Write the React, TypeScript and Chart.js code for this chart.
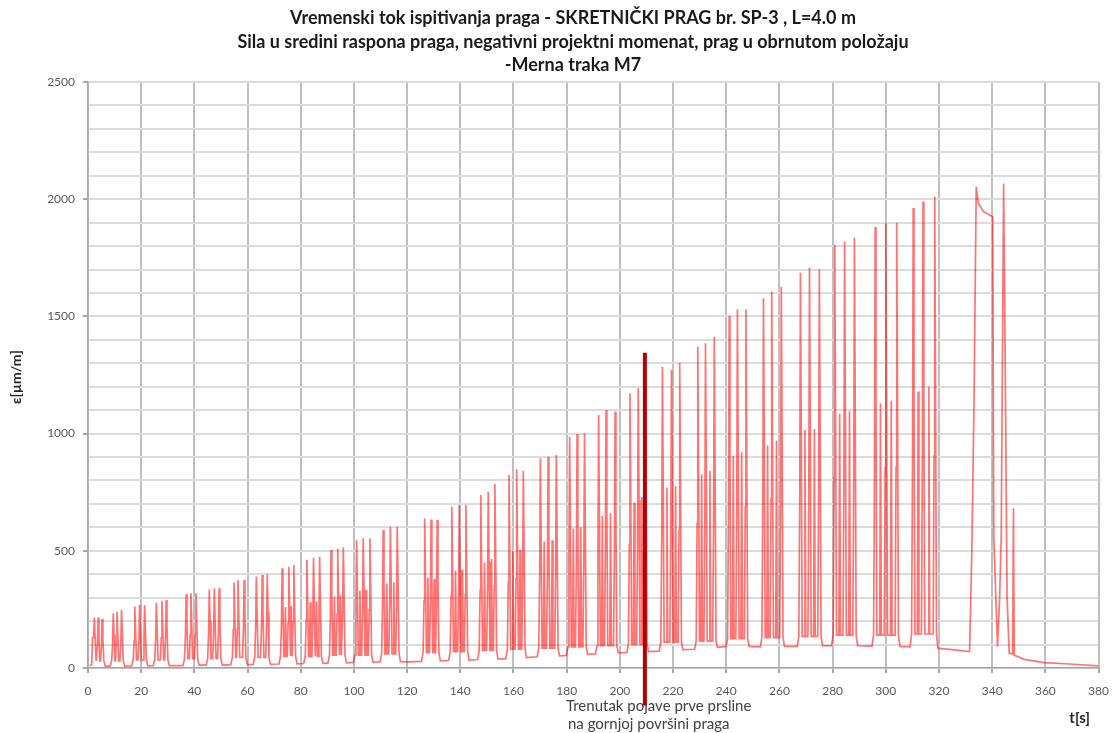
import React, { useEffect, useRef } from "react";
import { Chart, registerables } from "chart.js";

Chart.register(...registerables);

const titleLines = [
  "Vremenski tok ispitivanja praga - SKRETNIČKI PRAG br. SP-3 , L=4.0 m",
  "Sila u sredini raspona praga, negativni projektni momenat, prag u obrnutom položaju",
  "-Merna traka M7",
];
const yAxisTitle = "ε[µm/m]";
const xAxisTitle = "t[s]";
const crackLabelLines = ["Trenutak pojave prve prsline", "na gornjoj površini praga"];
const crackTimeS = 209.4;
const crackTopUm = 1345;
const crackBottomUm = -160;

const xMin = 0;
const xMax = 380;
const xStep = 20;
const yMin = 0;
const yMax = 2500;
const yGridStep = 100;
const yLabelStep = 500;

// main trace: time [s], one line per loading group
const timeS = [
  0.6, 1.4, 1.7, 2.1, 2.4, 2.7, 3.05, 3.2, 3.55, 3.8, 4.1, 4.45, 4.7, 5.05, 5.3, 5.6, 5.95, 6.5,
  8.3, 8.9, 9.25, 9.5, 9.8, 10.15, 10.3, 10.65, 10.9, 11.2, 11.55, 12.0, 12.35, 12.6, 12.9, 13.25, 13.8,
  16.4, 17.0, 17.35, 17.6, 17.9, 18.25, 18.8, 19.15, 19.4, 19.7, 20.05, 20.7, 21.05, 21.3, 21.6, 21.95, 22.5,
  24.5, 25.1, 25.45, 25.7, 26.0, 26.35, 27.2, 27.55, 27.8, 28.1, 28.45, 28.8, 29.15, 29.4, 29.7, 30.05, 30.6,
  35.7, 36.3, 36.65, 36.9, 37.2, 37.55, 38.1, 38.45, 38.7, 39.0, 39.35, 40.0, 40.35, 40.6, 40.9, 41.25, 41.8,
  44.4, 45.0, 45.35, 45.6, 45.9, 46.25, 46.9, 47.25, 47.5, 47.8, 48.15, 48.7, 49.05, 49.3, 49.6, 49.95, 50.5,
  53.7, 54.3, 54.65, 54.9, 55.2, 55.55, 55.8, 56.15, 56.4, 56.7, 57.05, 58.1, 58.45, 58.7, 59.0, 59.35, 59.9,
  62.1, 62.7, 63.05, 63.3, 63.6, 63.95, 64.9, 65.25, 65.5, 65.8, 66.15, 66.8, 67.15, 67.4, 67.7, 68.05, 68.6,
  71.8, 72.4, 72.75, 73.0, 73.3, 73.65, 74.9, 75.25, 75.5, 75.8, 76.15, 76.8, 77.15, 77.4, 77.7, 78.05, 78.6,
  81.1, 81.7, 82.05, 82.3, 82.6, 82.95, 84.2, 84.55, 84.8, 85.1, 85.45, 86.5, 86.85, 87.1, 87.4, 87.75, 88.3,
  90.2, 90.8, 91.15, 91.4, 91.7, 92.05, 93.3, 93.65, 93.9, 94.2, 94.55, 95.4, 95.75, 96.0, 96.3, 96.65, 97.2,
  99.8, 100.4, 100.75, 101.0, 101.3, 101.65, 102.9, 103.25, 103.5, 103.8, 104.15, 105.4, 105.75, 106.0, 106.3, 106.65, 107.2,
  109.8, 110.4, 110.75, 111.0, 111.3, 111.65, 113.1, 113.45, 113.7, 114.0, 114.35, 115.7, 116.05, 116.3, 116.6, 116.95, 117.5,
  120.5,
  125.4, 126.0, 126.35, 126.6, 126.9, 127.25, 128.4, 128.75, 129.0, 129.3, 129.65, 130.7, 131.05, 131.3, 131.6, 131.95, 132.5,
  135.6, 136.2, 136.55, 136.8, 137.1, 137.45, 139.0, 139.35, 139.6, 139.9, 140.25, 141.5, 141.85, 142.1, 142.4, 142.75, 143.3,
  146.5, 147.1, 147.45, 147.7, 148.0, 148.35, 149.9, 150.25, 150.5, 150.8, 151.15, 152.4, 152.75, 153.0, 153.3, 153.65, 154.2,
  157.1, 157.7, 158.05, 158.3, 158.6, 158.95, 160.6, 160.95, 161.2, 161.5, 161.85, 163.1, 163.45, 163.7, 164.0, 164.35, 164.9,
  168.9, 169.5, 169.85, 170.1, 170.4, 170.75, 172.4, 172.75, 173.0, 173.3, 173.65, 175.5, 175.85, 176.1, 176.4, 176.75, 177.3,
  179.9, 180.5, 180.85, 181.1, 181.4, 181.75, 183.3, 183.65, 183.9, 184.2, 184.55, 186.1, 186.45, 186.7, 187.0, 187.35, 187.9,
  190.8, 191.4, 191.75, 192.0, 192.3, 192.65, 194.2, 194.55, 194.8, 195.1, 195.45, 197.6, 197.95, 198.2, 198.5, 198.85, 199.4,
  202.6, 203.2, 203.55, 203.8, 204.1, 204.45, 206.3, 206.65, 206.9, 207.2, 207.55, 209.0, 209.35, 209.6, 209.9, 210.25, 210.8,
  214.8, 215.4, 215.75, 216.0, 216.3, 216.65, 218.8, 219.15, 219.4, 219.7, 220.05, 221.9, 222.25, 222.5, 222.8, 223.15, 223.7,
  228.1, 228.7, 229.05, 229.3, 229.6, 229.95, 231.6, 231.95, 232.2, 232.5, 232.85, 234.9, 235.25, 235.5, 235.8, 236.15, 236.7,
  239.9, 240.5, 240.85, 241.1, 241.4, 241.75, 243.6, 243.95, 244.2, 244.5, 244.85, 246.8, 247.15, 247.4, 247.7, 248.05, 248.6,
  252.8, 253.4, 253.75, 254.0, 254.3, 254.65, 256.5, 256.85, 257.1, 257.4, 257.75, 260.1, 260.45, 260.7, 261.0, 261.35, 261.9,
  266.7, 267.3, 267.65, 267.9, 268.2, 268.55, 270.7, 271.05, 271.3, 271.6, 271.95, 274.4, 274.75, 275.0, 275.3, 275.65, 276.2,
  279.6, 280.2, 280.55, 280.8, 281.1, 281.45, 283.9, 284.25, 284.5, 284.8, 285.15, 287.6, 287.95, 288.2, 288.5, 288.85, 289.4,
  294.8, 295.4, 295.75, 296.0, 296.3, 296.65, 299.4, 299.75, 300.0, 300.3, 300.65, 303.5, 303.85, 304.1, 304.4, 304.75, 305.3,
  309.1, 309.7, 310.05, 310.3, 310.6, 310.95, 313.4, 313.75, 314.0, 314.3, 314.65, 317.8, 318.15, 318.4, 318.7, 319.05, 319.6,
  325.0, 331.5, 332.3, 333.2, 334.0, 334.8, 336.8, 340.2, 340.6, 342.0, 342.8, 343.4,
  344.3, 344.9, 345.6, 346.4, 347.7, 348.0, 348.3, 352.0, 359.5, 369.0, 380.0,
];

// main trace: strain [µm/m], same order as timeS
const strainUm = [
  10, 15, 130, 130, 215, 125, 30, 30, 100, 215, 125, 30, 30, 95, 210, 120, 30, 8,
  8, 30, 105, 233, 140, 30, 30, 108, 240, 145, 30, 30, 110, 247, 150, 30, 8,
  9, 35, 118, 262, 157, 35, 35, 120, 270, 162, 35, 35, 120, 268, 160, 35, 9,
  10, 35, 125, 279, 167, 35, 35, 130, 287, 172, 35, 35, 130, 290, 174, 35, 10,
  10, 40, 142, 315, 189, 40, 40, 144, 319, 191, 40, 40, 144, 319, 191, 40, 12,
  12, 40, 150, 335, 200, 40, 40, 153, 340, 204, 40, 40, 153, 340, 204, 40, 12,
  14, 45, 165, 365, 219, 45, 45, 169, 375, 225, 45, 45, 169, 375, 225, 45, 15,
  15, 45, 175, 390, 234, 45, 45, 179, 397, 238, 45, 45, 180, 400, 240, 45, 16,
  17, 50, 191, 425, 255, 50, 50, 194, 432, 259, 50, 50, 198, 439, 263, 50, 18,
  19, 50, 208, 462, 277, 50, 50, 212, 470, 282, 50, 50, 214, 475, 285, 50, 20,
  21, 55, 226, 503, 302, 55, 55, 230, 510, 306, 55, 55, 232, 515, 309, 55, 22,
  24, 55, 245, 545, 327, 55, 55, 249, 553, 332, 55, 55, 249, 553, 332, 55, 25,
  26, 60, 265, 589, 353, 60, 60, 271, 603, 362, 60, 60, 271, 603, 362, 60, 27,
  26,
  28, 65, 287, 638, 383, 65, 65, 285, 634, 380, 65, 65, 284, 631, 379, 65, 30,
  32, 70, 310, 688, 413, 70, 70, 313, 695, 417, 70, 70, 313, 695, 417, 70, 34,
  36, 75, 332, 738, 443, 75, 75, 338, 752, 451, 75, 75, 353, 785, 471, 75, 38,
  40, 80, 370, 823, 494, 80, 80, 382, 848, 509, 80, 80, 379, 842, 505, 80, 44,
  48, 85, 403, 895, 537, 85, 85, 405, 901, 541, 85, 85, 409, 909, 545, 85, 52,
  54, 90, 444, 987, 592, 90, 90, 449, 998, 599, 90, 90, 450, 1001, 601, 90, 58,
  60, 95, 486, 1079, 647, 95, 95, 495, 1101, 661, 95, 95, 492, 1093, 656, 95, 65,
  66, 100, 527, 1172, 703, 100, 100, 537, 1193, 716, 100, 100, 558, 1240, 744, 100, 70,
  72, 110, 578, 1285, 771, 110, 110, 572, 1271, 763, 110, 110, 586, 1302, 781, 110, 78,
  80, 115, 617, 1371, 823, 115, 115, 623, 1385, 831, 115, 115, 636, 1413, 848, 115, 88,
  92, 125, 676, 1502, 901, 125, 125, 689, 1530, 918, 125, 125, 689, 1530, 918, 125, 92,
  90, 130, 710, 1577, 946, 130, 130, 723, 1606, 964, 130, 130, 732, 1627, 976, 130, 92,
  92, 135, 759, 1686, 1012, 135, 135, 769, 1709, 1025, 135, 135, 765, 1701, 1021, 135, 95,
  95, 140, 812, 1805, 1083, 140, 140, 819, 1819, 1091, 140, 140, 827, 1837, 1102, 140, 95,
  93, 140, 846, 1881, 1129, 140, 140, 855, 1900, 1140, 140, 140, 855, 1900, 1140, 140, 92,
  90, 145, 883, 1962, 1177, 145, 145, 896, 1990, 1194, 145, 145, 905, 2011, 1207, 145, 84,
  78, 70, 470, 1157, 2053, 1982, 1947, 1925, 560, 91, 300, 560,
  2067, 1300, 300, 64, 60, 681, 55, 37, 23, 17, 9,
];

// secondary (intermediate) spikes between the main peaks of a group
const midTimeS = [
  73.95, 74.25, 74.55, 76.15, 76.45, 76.75,
  83.25, 83.55, 83.85, 85.65, 85.95, 86.25,
  92.35, 92.65, 92.95, 94.65, 94.95, 95.25,
  101.95, 102.25, 102.55, 104.45, 104.75, 105.05,
  112.05, 112.35, 112.65, 114.7, 115.0, 115.3,
  127.5, 127.8, 128.1, 129.85, 130.15, 130.45,
  137.9, 138.2, 138.5, 140.55, 140.85, 141.15,
  148.8, 149.1, 149.4, 151.45, 151.75, 152.05,
  159.45, 159.75, 160.05, 162.15, 162.45, 162.75,
  171.25, 171.55, 171.85, 174.25, 174.55, 174.85,
  182.2, 182.5, 182.8, 185.0, 185.3, 185.6,
  193.1, 193.4, 193.7, 196.2, 196.5, 196.8,
  205.05, 205.35, 205.65, 207.95, 208.25, 208.55,
  217.4, 217.7, 218.0, 220.65, 220.95, 221.25,
  230.45, 230.75, 231.05, 233.55, 233.85, 234.15,
  242.35, 242.65, 242.95, 245.5, 245.8, 246.1,
  255.25, 255.55, 255.85, 258.6, 258.9, 259.2,
  269.3, 269.6, 269.9, 272.85, 273.15, 273.45,
  282.35, 282.65, 282.95, 286.05, 286.35, 286.65,
  297.7, 298.0, 298.3, 301.75, 302.05, 302.35,
  311.85, 312.15, 312.45, 315.9, 316.2, 316.5,
];

const midStrainUm = [
  50, 260, 50, 50, 265, 50,
  50, 280, 50, 50, 285, 50,
  55, 305, 55, 55, 310, 55,
  55, 330, 55, 55, 335, 55,
  60, 360, 60, 60, 365, 60,
  65, 385, 65, 65, 380, 65,
  70, 415, 70, 70, 420, 70,
  75, 450, 75, 75, 465, 75,
  80, 500, 80, 80, 505, 80,
  85, 540, 85, 85, 545, 85,
  90, 595, 90, 90, 600, 90,
  95, 650, 95, 95, 660, 95,
  100, 705, 100, 100, 730, 100,
  110, 770, 110, 110, 775, 110,
  115, 825, 115, 115, 840, 115,
  125, 905, 125, 125, 920, 125,
  130, 950, 130, 130, 970, 130,
  135, 1015, 135, 135, 1020, 135,
  140, 1085, 140, 140, 1095, 140,
  140, 1130, 140, 140, 1140, 140,
  145, 1180, 145, 145, 1200, 145,
];

const overlayPlugin = {
  id: "overlayText",
  afterDraw(chart: any) {
    const ctx = chart.ctx as CanvasRenderingContext2D;
    const xs = chart.scales.x;
    const ys = chart.scales.y;
    ctx.save();
    ctx.fillStyle = "#1a1a1a";
    ctx.font = "bold 18px Lato";
    ctx.textAlign = "center";
    ctx.textBaseline = "middle";
    const titleY = [18, 42, 65];
    titleLines.forEach((line, i) => ctx.fillText(line, 573, titleY[i]));
    ctx.save();
    ctx.translate(16, 377);
    ctx.rotate(-Math.PI / 2);
    ctx.font = "bold 14px Lato";
    ctx.fillStyle = "#262626";
    ctx.fillText(yAxisTitle, 0, 0);
    ctx.restore();
    ctx.font = "bold 15px Lato";
    ctx.fillStyle = "#262626";
    ctx.textAlign = "right";
    ctx.fillText(xAxisTitle, 1090, 718);
    ctx.font = "15px Lato";
    ctx.fillStyle = "#404040";
    ctx.textAlign = "left";
    ctx.fillText(crackLabelLines[0], 566, 706);
    ctx.fillText(crackLabelLines[1], 568, 724);
    const cx = xs.getPixelForValue(crackTimeS);
    ctx.strokeStyle = "#b80000";
    ctx.lineWidth = 4;
    ctx.beginPath();
    ctx.moveTo(cx, ys.getPixelForValue(crackTopUm));
    ctx.lineTo(cx, ys.getPixelForValue(crackBottomUm));
    ctx.stroke();
    ctx.restore();
  },
};

export default function App() {
  const ref = useRef<HTMLCanvasElement | null>(null);
  useEffect(() => {
    if (!ref.current) return;
    const data = timeS
      .map((t, i) => ({ x: t, y: strainUm[i] }))
      .concat(midTimeS.map((t, i) => ({ x: t, y: midStrainUm[i] })))
      .sort((a, b) => a.x - b.x);
    const chart = new Chart(ref.current, {
      type: "line",
      data: {
        datasets: [
          {
            label: "M7",
            data,
            borderColor: "rgba(255,0,0,0.55)",
            borderWidth: 1.7,
            pointRadius: 0,
            tension: 0,
            fill: false,
          },
        ],
      },
      options: {
        animation: false,
        responsive: false,
        layout: { padding: { top: 82, right: 15, left: 0, bottom: 0 } },
        plugins: {
          legend: { display: false },
          title: { display: false },
          tooltip: { enabled: false },
        },
        scales: {
          x: {
            type: "linear",
            min: xMin,
            max: xMax,
            afterFit: (s: any) => {
              s.height = 65;
            },
            ticks: {
              stepSize: xStep,
              autoSkip: false,
              maxRotation: 0,
              padding: 11,
              color: "#595959",
              font: { family: "Lato", size: 12 },
            },
            grid: {
              color: "#bfbfbf",
              lineWidth: 2,
              tickLength: 5,
              tickColor: "#a6a6a6",
            },
            border: { color: "#a6a6a6", width: 1.5 },
          },
          y: {
            min: yMin,
            max: yMax,
            afterFit: (s: any) => {
              s.width = 88;
            },
            ticks: {
              stepSize: yGridStep,
              autoSkip: false,
              padding: 8,
              color: "#595959",
              font: { family: "Lato", size: 12 },
              callback: (v: any) => (Number(v) % yLabelStep === 0 ? String(v) : ""),
            },
            grid: {
              color: "#dcdcdc",
              lineWidth: 2,
              tickLength: 5,
              tickColor: (c: any) =>
                c.tick && c.tick.value % yLabelStep === 0 ? "#a6a6a6" : "rgba(0,0,0,0)",
            },
            border: { color: "#a6a6a6", width: 1.5 },
          },
        },
      },
      plugins: [overlayPlugin],
    });
    return () => chart.destroy();
  }, []);
  return (
    <canvas
      ref={ref}
      width={1120}
      height={733}
      style={{ position: "fixed", left: 0, top: 0, width: 1120, height: 733, display: "block", background: "#fff" }}
    />
  );
}
